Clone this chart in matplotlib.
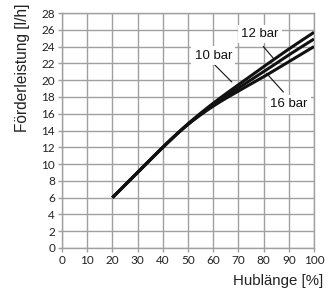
import matplotlib
matplotlib.use("Agg")
import matplotlib.pyplot as plt
import numpy as np

stroke = [20, 30, 40, 50, 60, 70, 80, 90, 100]
flow_10bar = [6.0, 9.0, 12.0, 14.8, 17.25, 19.45, 21.6, 23.7, 25.7]
flow_12bar = [6.0, 9.0, 12.0, 14.75, 17.05, 19.05, 21.0, 23.0, 24.9]
flow_16bar = [6.0, 9.0, 12.0, 14.72, 16.9, 18.7, 20.4, 22.2, 24.0]
series_labels = ["10 bar", "12 bar", "16 bar"]
x_ticks = [0, 10, 20, 30, 40, 50, 60, 70, 80, 90, 100]
y_ticks = list(range(0, 29, 2))


def pchip(x, y, xs):
    x = np.asarray(x, float); y = np.asarray(y, float)
    h = np.diff(x); d = np.diff(y) / h
    m = np.zeros_like(y)
    for k in range(1, len(x) - 1):
        if d[k - 1] * d[k] > 0:
            w1 = 2 * h[k] + h[k - 1]; w2 = h[k] + 2 * h[k - 1]
            m[k] = (w1 + w2) / (w1 / d[k - 1] + w2 / d[k])
    m[0] = d[0]; m[-1] = d[-1]
    idx = np.clip(np.searchsorted(x, xs) - 1, 0, len(x) - 2)
    t = (xs - x[idx]) / h[idx]
    h00 = 2*t**3 - 3*t**2 + 1; h10 = t**3 - 2*t**2 + t
    h01 = -2*t**3 + 3*t**2; h11 = t**3 - t**2
    return h00*y[idx] + h10*h[idx]*m[idx] + h01*y[idx+1] + h11*h[idx]*m[idx+1]


narrow = ["Liberation Sans", "DejaVu Sans"]
tickfont = ["Lato", "DejaVu Sans"]

fig = plt.figure(figsize=(3.34, 2.93), dpi=100)
ax = fig.add_axes([62/334, 45/293, 252/334, 235/293])

xs = np.linspace(stroke[0], stroke[-1], 200)
for ys in (flow_10bar, flow_12bar, flow_16bar):
    ax.plot(xs, pchip(stroke, ys, xs), color="#111111", lw=2.2,
            solid_capstyle="butt", zorder=3)

ax.set_xlim(0, 100)
ax.set_ylim(0, 28)
ax.set_xticks(x_ticks)
ax.set_yticks(y_ticks)
ax.grid(True, color="#a0a0a0", lw=1.0)
ax.set_axisbelow(True)
for s in ax.spines.values():
    s.set_color("#a0a0a0")
    s.set_linewidth(1.0)
ax.tick_params(colors="#a0a0a0", length=3, width=1.0, labelcolor="#222222", pad=2)
for lab in ax.get_xticklabels() + ax.get_yticklabels():
    lab.set_fontfamily(tickfont)
    lab.set_fontsize(8.5)

fig.text(323/334, 1 - 281/293, "Hublänge [%]", family=narrow, fontsize=10.8,
         color="#222222", ha="right", va="center")
fig.text(22/334, 1 - 3/293, "Förderleistung [l/h]", family=narrow, fontsize=11.2,
         color="#222222", ha="center", va="top", rotation=90)

bbox = dict(facecolor="white", edgecolor="none", pad=2.5)
annots = [
    (series_labels[0], (60.0, 22.9), (60.0, 22.0), (67.3, 19.8)),
    (series_labels[1], (78.6, 25.5), (79.9, 24.0), (83.9, 22.6)),
    (series_labels[2], (90.1, 17.1), (87.8, 18.6), (81.2, 20.8)),
]
for txt, pos, p0, p1 in annots:
    ax.plot([p0[0], p1[0]], [p0[1], p1[1]], color="#111111", lw=0.8, zorder=4)
    ax.text(pos[0], pos[1], txt, family=narrow, fontsize=9.5, color="#111111",
            ha="center", va="center", bbox=bbox, zorder=5)

fig.savefig("out.png", dpi=100)
